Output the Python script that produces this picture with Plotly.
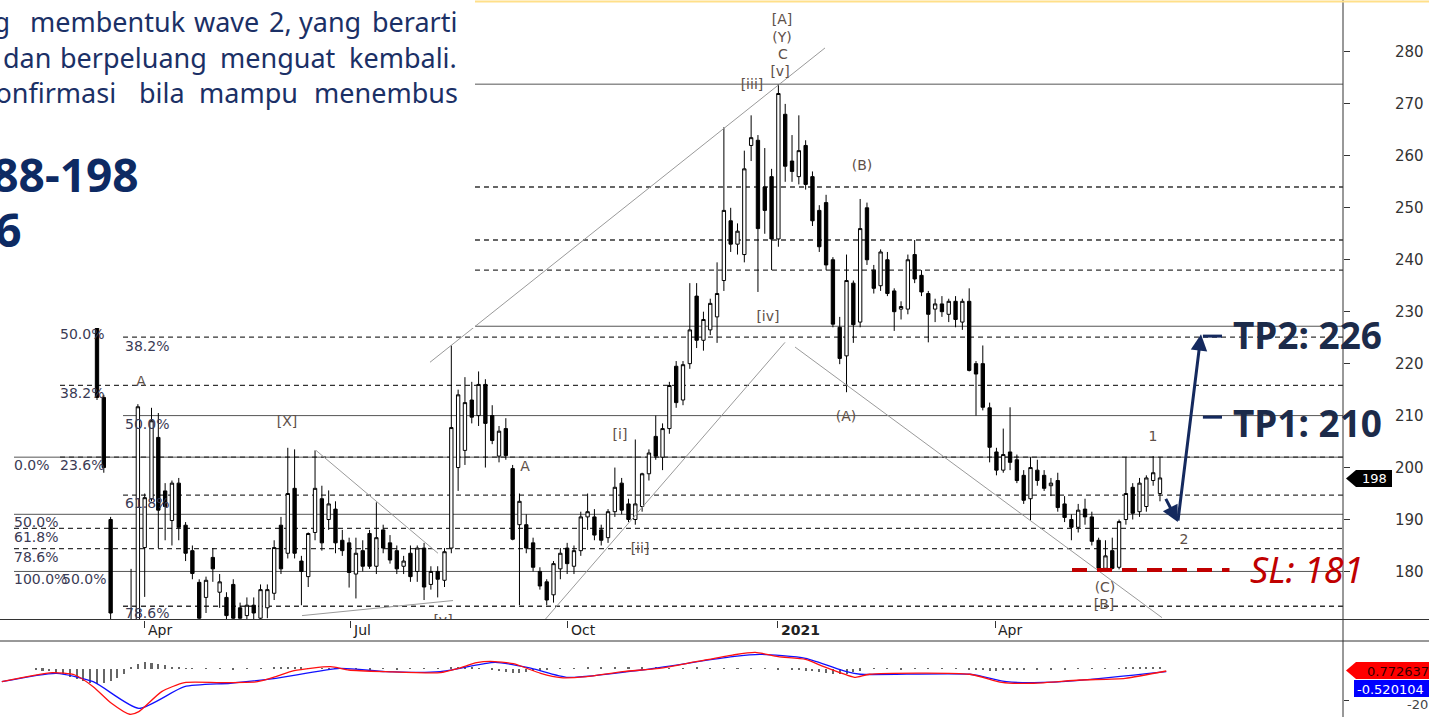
import plotly.graph_objects as go

W, H = 1429, 717

# ---------------- price data (two-session candles) ----------------
opens = [228, 213.5, 190, 168, 163, 165, 168, 184.6, 194, 205.8,
         195.5, 189.8, 197, 188.9, 184, 177.9, 175, 182.7, 176, 175,
         177.5, 173, 171.5, 173.5, 171, 173, 175.8, 188.9, 183.5, 196,
         182, 179, 187.5, 194, 190, 192, 186, 185.5, 179.5, 184,
         187.3, 181, 188, 185.5, 184, 181, 183.5, 180, 184.5, 177.5,
         180, 178.3, 184.5, 200, 203.3, 213, 210, 216, 210, 202.2,
         207.5, 199.8, 189, 189, 185.5, 180, 178, 175.5, 180.5, 184.5,
         181, 184, 190.5, 190.5, 188, 186.5, 191.5, 197, 193, 190,
         192.5, 198.8, 206, 202, 207.5, 219.5, 213, 220, 233, 224.5,
         226.5, 229, 236, 247.5, 243, 241, 262, 263, 254, 256,
         244, 268, 259, 256, 262, 256, 249.5, 251, 240, 227,
         221.5, 235.5, 228, 250, 238, 235, 240, 234, 230.5, 230.5,
         241, 237, 233.5, 230.5, 231.5, 229.5, 232, 228, 232, 220,
         220, 211.5, 203, 199.5, 203, 201.5, 198.5, 194, 199.5, 198.5,
         196.5, 197.5, 193, 190, 188.5, 192, 190.5, 186, 180.6, 184,
         180.8, 190, 196.2, 191.5, 192.5, 197.5, 195]
highs = [230, 214, 190.5, 169, 168, 180.5, 212.2, 195, 211.5, 210.5,
         197, 197.5, 198, 189.5, 185, 178.5, 179, 184.5, 179.5, 176,
         178.5, 174, 175, 175, 177.5, 177.5, 186, 190.5, 203.8, 203.5,
         183, 187.5, 203.3, 196.5, 195.6, 193.5, 188, 186.5, 186.5, 186,
         188, 193.3, 189, 187, 185, 183, 185, 185, 185.5, 181,
         181, 184.5, 223.5, 215, 217.4, 216.5, 218.5, 217, 212, 208,
         209.5, 200.5, 195, 191, 186.5, 180.8, 178.5, 182, 184.5, 185.5,
         185, 191.5, 195, 192, 189, 192, 200, 198, 194, 205.4,
         199, 203.5, 210, 208.5, 216.5, 220.5, 220.5, 235.5, 235.5, 230,
         232.5, 239.5, 265.5, 250, 247, 261, 267.8, 264, 261.5, 257.5,
         273.8, 270, 264, 267.8, 263, 257, 250.5, 252.5, 240.5, 229,
         241, 236, 251.7, 251, 239, 242, 241.5, 234.5, 232, 241,
         243.8, 238, 234, 232.5, 233, 232.5, 233, 232.5, 234.5, 220.5,
         223.5, 212.5, 203.8, 207.5, 211.6, 202.5, 199.5, 202, 201.5, 199.5,
         198, 199, 194.5, 191, 193, 194, 191.5, 186.5, 186, 186.5,
         190, 202, 197, 198, 198.5, 202.2, 202]
lows = [213, 199, 169, 160, 158, 162, 166, 175.1, 193.5, 184.5,
        186, 185, 186, 182, 178.5, 169, 172, 178, 173, 170,
        169, 169, 170, 169.5, 169, 171, 174.5, 179.5, 182.5, 182.5,
        173.5, 177, 186, 184, 188, 183.5, 183, 176.9, 174.8, 180,
        180.5, 179.5, 183.5, 181.5, 179.5, 179.5, 178, 178, 174.5, 176.5,
        175, 177, 183.5, 195.5, 200.5, 208.5, 208, 200, 204.5, 201,
        201.5, 186, 173.5, 183.5, 180, 176.5, 173.5, 174, 178.5, 179.5,
        179.5, 183, 188, 186, 185, 185.5, 190.5, 191, 189.5, 189,
        191.5, 197.5, 201.5, 199.5, 206.5, 211.5, 212, 219, 223, 222.5,
        225.5, 224, 234, 241.5, 241, 239.5, 259, 233.8, 245, 238,
        242.5, 255, 255, 254.5, 253.5, 246.5, 241.5, 238, 227, 219.9,
        214.5, 224, 227, 239, 233.5, 234, 233, 226.3, 228.5, 229.5,
        235.5, 233, 224.1, 228, 229, 228, 227, 226.5, 218.5, 210,
        211, 201, 198.5, 199, 199.5, 197, 193, 189.8, 196.5, 195.5,
        194.5, 191.5, 189.5, 186, 187.5, 189, 185, 180.5, 180.4, 180.4,
        180.4, 189, 190, 190.5, 191.5, 196.5, 193.5]
closes = [213.5, 200, 172, 162, 166, 168, 211.7, 194.2, 209, 191.8,
          192.5, 197, 188.5, 183.5, 179.6, 171, 178.3, 180.5, 178, 171.5,
          171, 171, 173.5, 172, 176.5, 176.5, 184.6, 180.5, 195, 183.5,
          180, 187.3, 196, 185.5, 193, 185.5, 184, 179.8, 183.5, 181,
          181, 186.5, 184.5, 182.2, 180.5, 182, 179, 184.5, 177, 180,
          178.5, 183.8, 207.7, 214, 212.5, 209.7, 216, 208.5, 205.2, 207,
          202.3, 186.2, 193.5, 184.5, 180.8, 177.2, 174.5, 181.5, 183.5, 181.5,
          184, 190.5, 191.5, 187, 186, 191.5, 196.2, 191.8, 190, 193,
          198.8, 202.8, 202.2, 207.5, 215.8, 212.5, 219.8, 226.5, 224.5, 228.5,
          231.6, 233.5, 249.5, 243, 245.5, 257.5, 263.5, 246, 249.5, 244,
          272, 258, 257, 261, 254.5, 247.5, 242.5, 239, 227.6, 221,
          236, 227.5, 246, 240, 234.5, 241.5, 233.5, 230, 231, 240,
          236.3, 233.8, 229.5, 231.5, 230, 232, 228.5, 232, 218.7, 218,
          211.6, 203.9, 199.5, 202.5, 201, 197.5, 193.7, 200, 197.5, 196,
          197, 192.3, 190.4, 188.5, 191.8, 190.5, 185.8, 180.6, 183, 180.6,
          189.6, 195, 191.2, 197, 198, 199, 198]
candle_pos = list(range(len(closes)))

# x-axis (session index) ticks and labels
tick_pos = [7.04, 37.13, 69.12, 99.94, 131.79]
tick_text = ["Apr", "Jul", "Oct", "<b>2021</b>", "Apr"]
price_ticks = [180, 190, 200, 210, 220, 230, 240, 250, 260, 270, 280]
last_price = "198"

# Fibonacci / horizontal levels
fib_levels = [273.8, 227.2, 210.0, 202.0, 191.0, 180.0,
              254.0, 243.8, 238.0, 225.1, 215.8, 202.0, 194.7, 188.3, 184.4, 173.3]
fib_start = [55.47, 55.47, 3.82, -12.18, -12.18, -12.18,
             55.47, 55.47, 55.47, 3.82, -5.43, -5.43, 3.82, -12.18, -12.18, 3.82]
fib_solid = [True] * 6 + [False] * 10

fib_label_text = ["50.0%", "38.2%", "38.2%", "50.0%", "0.0%", "23.6%", "61.8%",
                  "50.0%", "61.8%", "78.6%", "100.0%", "50.0%", "78.6%"]
fib_label_x = [-5.43, 4.11, -5.43, 4.11, -12.18, -5.43, 4.11,
               -12.18, -12.18, -12.18, -12.18, -5.14, 4.11]
fib_label_y = [225.47, 223.16, 214.1, 208.13, 200.23, 200.23, 192.91,
               189.25, 186.36, 182.5, 178.27, 178.27, 171.7]

# Elliott wave labels
wave_text = ["A", "[X]", "A", "[i]", "[ii]", "[iii]", "[v]", "C", "(Y)", "[A]",
             "[iv]", "(B)", "(A)", "(C)", "[B]", "1", "2", "[v]"]
wave_x = [6.46, 27.88, 62.81, 76.75, 79.69, 96.12, 100.24, 100.67, 100.53, 100.53,
          98.47, 112.27, 109.92, 147.93, 147.78, 154.98, 159.52, 50.78]
wave_y = [216.42, 208.71, 200.04, 206.2, 184.24, 273.45, 275.95, 279.23, 282.5, 285.97,
          228.94, 258.03, 209.67, 176.72, 173.45, 205.82, 185.97, 170.4]

# trend / channel lines: (x0, y0, x1, y1)
trend_lines = [
    (48.87, 220.27, 106.84, 280.77),
    (65.6, 170.5, 100.97, 224.1),
    (102.44, 223.2, 156.3, 171.1),
    (32.14, 203.3, 50.04, 183.5),
    (30.09, 171.5, 52.25, 174.4),
]

# oscillator panel
red_x = [-13.97, -6.6, -3.24, -0.56, 2.12, 4.8, 6.14, 9.49, 12.84, 18.2, 23.56, 26.24, 28.92,
         34.28, 36.96, 42.33, 50.37, 53.05, 55.73, 57.74, 61.09, 65.11, 68.06, 71.81, 77.17,
         82.53, 87.9, 93.26, 96.6, 99.96, 103.98, 106.66, 110.01, 111.35, 113.36, 128.1,
         132.8, 137.49, 144.19, 150.89, 156.92]
red_v = [-8.17, -2.37, -3.87, -11.4, -22.15, -29.2, -27.5, -14.6, -8.8, -8.8, -8.2, -4.9, -1.1,
         1.5, -0.65, -1.7, -2.37, 0.43, 4.1, 4.95, 3.4, -2.8, -5.6, -4.95, -1.7,
         0.43, 4.7, 9.0, 10.75, 7.96, 6.24, 1.5, -3.87, -5.4, -3.4, -3.4,
         -8.6, -9.2, -7.1, -6.0, -1.3]
blue_x = [-13.97, -5.93, -0.56, 6.14, 12.84, 19.54, 26.24, 35.62, 42.33, 50.37, 58.41, 63.77,
          69.13, 79.86, 93.26, 97.28, 103.98, 110.01, 112.02, 128.1, 133.47, 137.49, 144.19, 156.92]
blue_v = [-8.17, -2.8, -8.2, -25.4, -11.4, -9.2, -6.0, 0.43, -1.7, -1.7, 4.3, 0.43,
          -5.4, -0.65, 7.96, 9.46, 6.9, -1.7, -3.4, -3.4, -8.2, -8.8, -7.3, -1.7]
hist_x = [-9, -8, -7, -6, -5, -4, -3, -2, -1, 0, 1, 2, 3, 4, 5, 6, 7, 8, 9, 10, 11, 12, 13, 14,
          16, 18, 20, 22, 24, 26, 27, 28, 29, 30, 31, 33, 34, 35, 36, 38, 40, 42, 44, 46, 48, 50,
          52, 53, 54, 55, 56, 58, 59, 60, 61, 62, 63, 64, 65, 66, 68, 70, 72, 74, 76, 78, 80,
          82, 84, 86, 88, 90, 92, 94, 96, 98, 100, 102, 103, 104, 105, 106, 107, 108, 109, 110,
          111, 112, 114, 116, 118, 120, 122, 124, 126, 128, 129, 130, 131, 132, 133, 134, 135,
          136, 138, 140, 142, 144, 146, 148, 150, 151, 152, 153, 154, 155, 156]
hist_v = [-0.5, -1, -1.6, -2.5, -3.5, -5, -6.5, -8, -9, -9.5, -9, -7.5, -5.5, -3, 1.5, 3, 4.3, 4,
          3.2, 2.4, 1.6, 1, 0.6, 0.4,
          0.3, 0.3, -0.3, 0.3, 0.4, 0.8, 1.2, 1.5, 1.3, 1.0, 0.6, 0.5, -0.4, 0.3, 0.3, 0.3, -0.3,
          0.3, -0.3, 0.3, 0.3, 0.4,
          0.8, 1.5, 1.2, 0.8, 0.5, -0.8, -1.5, -2.2, -2.8, -2.5, -2, -1.5, -1, -0.5, 0.4, 0.6,
          0.8, 0.9, 1, 0.9, 0.8,
          0.7, 0.5, 0.6, 0.7, 0.6, 0.5, 0.5, 0.4, 0.4, -0.3, -0.4, -0.6, -1, -1.5, -2.2, -2.8,
          -3.3, -3.5, -3,
          -2, -1, 0.3, 0.3, -0.3, 0.3, 0.3, 0.3, 0.3, -0.5, -0.7, -0.9, -1, -1, -0.9, -0.8, -0.7,
          -0.6, -0.5, -0.4, -0.3, 0.3, 0.3, 0.4, 0.5, 0.7, 0.9, 1.1, 1.2, 1.2, 1.0]
osc_labels = ["0.772637", "-0.520104"]

# trade plan
trade_path = [(156.74, 194.26), (158.62, 189.5), (162.02, 225.67)]
tp_levels = [225.3, 209.7]
tp_text = ["TP2: 226", "TP1: 210"]
tp_text_y = [225.67, 208.71]
sl_level = 180.3
sl_text = "SL: 181"

# ---------------- geometry helpers ----------------
XR = [-14.235, 182.86]
PLOT_R = 1343


def px(x):
    return x / W


def py(y):
    return 1 - y / H


NAVY = "#14295e"
fig = go.Figure()

# trend lines
for (x0, y0, x1, y1) in trend_lines:
    fig.add_trace(go.Scatter(x=[x0, x1], y=[y0, y1], mode="lines",
                             line=dict(color="#9a9a9a", width=1), hoverinfo="skip",
                             xaxis="x", yaxis="y"))

fig.add_trace(go.Candlestick(
    x=candle_pos, open=opens, high=highs, low=lows, close=closes,
    increasing=dict(line=dict(color="black", width=1), fillcolor="white"),
    decreasing=dict(line=dict(color="black", width=1), fillcolor="black"),
    whiskerwidth=0, hoverinfo="skip", xaxis="x", yaxis="y"))

fig.add_trace(go.Scatter(x=fib_label_x, y=fib_label_y, text=fib_label_text, mode="text",
                         textposition="middle right",
                         textfont=dict(family="DejaVu Sans", size=14, color="#3b3b55"),
                         hoverinfo="skip", xaxis="x", yaxis="y", cliponaxis=True))
fig.add_trace(go.Scatter(x=wave_x, y=wave_y, text=wave_text, mode="text",
                         textposition="middle center",
                         textfont=dict(family="DejaVu Sans", size=14, color="#5e5048"),
                         hoverinfo="skip", xaxis="x", yaxis="y", cliponaxis=True))

# oscillator
fig.add_trace(go.Bar(x=hist_x, y=hist_v, width=0.3, marker=dict(color="#666", line=dict(width=0)),
                     xaxis="x2", yaxis="y2", hoverinfo="skip"))
fig.add_trace(go.Scatter(x=blue_x, y=blue_v, mode="lines", line=dict(color="#1010ff", width=1.3, shape="spline", smoothing=0.6),
                         xaxis="x2", yaxis="y2", hoverinfo="skip"))
fig.add_trace(go.Scatter(x=red_x, y=red_v, mode="lines", line=dict(color="#ff1010", width=1.3, shape="spline", smoothing=0.6),
                         xaxis="x2", yaxis="y2", hoverinfo="skip"))

shapes = []
for lvl, x0, solid in zip(fib_levels, fib_start, fib_solid):
    shapes.append(dict(type="line", xref="x", yref="y", x0=x0, x1=XR[1], y0=lvl, y1=lvl,
                       line=dict(color="#555" if solid else "#333", width=1 if solid else 1.3,
                                 dash="solid" if solid else "5px,4px"), layer="below"))

# white text panel covering the chart top-left
shapes.append(dict(type="rect", xref="paper", yref="paper", x0=0, x1=px(475), y0=py(328), y1=1,
                   fillcolor="white", line=dict(width=0), layer="above"))
# frame lines
shapes.append(dict(type="line", xref="paper", yref="paper", x0=px(PLOT_R), x1=px(PLOT_R), y0=0, y1=1,
                   line=dict(color="#333", width=1)))
shapes.append(dict(type="line", xref="paper", yref="paper", x0=0, x1=1, y0=py(619.5), y1=py(619.5),
                   line=dict(color="#333", width=1)))
shapes.append(dict(type="line", xref="paper", yref="paper", x0=0, x1=1, y0=py(641), y1=py(641),
                   line=dict(color="#333", width=1)))
shapes.append(dict(type="line", xref="paper", yref="paper", x0=px(475), x1=1, y0=py(1.5), y1=py(1.5),
                   line=dict(color="#ffe08a", width=2)))

# TP ticks and SL line
for lvl in tp_levels:
    shapes.append(dict(type="line", xref="x", yref="y", x0=162.3, x1=165.1, y0=lvl, y1=lvl,
                       line=dict(color=NAVY, width=3)))
shapes.append(dict(type="line", xref="x", yref="y", x0=143.09, x1=166.2, y0=sl_level, y1=sl_level,
                   line=dict(color="#c00000", width=4, dash="15px,10px")))

# price tag and oscillator tags
def tag(x_tip, x_body, x_right, y_top, y_bot, color):
    ym = (y_top + y_bot) / 2
    return dict(type="path", xref="paper", yref="paper",
                path=f"M {px(x_tip)} {py(ym)} L {px(x_body)} {py(y_top)} L {px(x_right)} {py(y_top)} "
                     f"L {px(x_right)} {py(y_bot)} L {px(x_body)} {py(y_bot)} Z",
                fillcolor=color, line=dict(width=0), layer="above")

shapes.append(tag(1346, 1356, 1392, 470, 487, "black"))
shapes.append(tag(1346, 1356, 1430, 662, 679, "#ff0000"))
shapes.append(dict(type="rect", xref="paper", yref="paper", x0=px(1354), x1=1, y0=py(697), y1=py(680),
                   fillcolor="#0000ff", line=dict(width=0), layer="above"))

ann = []
# trade arrows
ann.append(dict(x=trade_path[1][0], y=trade_path[1][1], ax=trade_path[0][0], ay=trade_path[0][1],
                xref="x", yref="y", axref="x", ayref="y", text="", showarrow=True,
                arrowhead=2, arrowsize=1.1, arrowwidth=3, arrowcolor=NAVY))
ann.append(dict(x=trade_path[2][0], y=trade_path[2][1], ax=trade_path[1][0], ay=trade_path[1][1],
                xref="x", yref="y", axref="x", ayref="y", text="", showarrow=True,
                arrowhead=2, arrowsize=1.1, arrowwidth=3, arrowcolor=NAVY))
for t, yv in zip(tp_text, tp_text_y):
    ann.append(dict(x=166.45, y=yv, xref="x", yref="y", text=f"<b>{t}</b>", showarrow=False,
                    xanchor="left", yanchor="middle",
                    font=dict(family="Noto Sans", size=37, color="#1c2b4a")))
ann.append(dict(x=168.9, y=sl_level, xref="x", yref="y", text=f"<i>{sl_text}</i>", showarrow=False,
                xanchor="left", yanchor="middle",
                font=dict(family="Noto Sans", size=36, color="#c00000")))

# date labels
for tp_, tt in zip(tick_pos, tick_text):
    ann.append(dict(x=tp_, y=py(630), xref="x", yref="paper", text=tt, showarrow=False,
                    xanchor="left", yanchor="middle", xshift=1,
                    font=dict(family="DejaVu Sans", size=14, color="#222")))

# tags text
ann.append(dict(x=px(1360), y=py(478.5), xref="paper", yref="paper", text=last_price, showarrow=False,
                xanchor="left", yanchor="middle", font=dict(family="DejaVu Sans", size=13, color="white")))
ann.append(dict(x=px(1365), y=py(671), xref="paper", yref="paper", text=osc_labels[0], showarrow=False,
                xanchor="left", yanchor="middle", font=dict(family="DejaVu Sans", size=13, color="#300")))
ann.append(dict(x=px(1355), y=py(689), xref="paper", yref="paper", text=osc_labels[1], showarrow=False,
                xanchor="left", yanchor="middle", font=dict(family="DejaVu Sans", size=13, color="white")))
ann.append(dict(x=px(1405), y=py(704), xref="paper", yref="paper", text="-20", showarrow=False,
                xanchor="left", yanchor="middle", font=dict(family="DejaVu Sans", size=13, color="#444")))

# slide text (top-left)
TXT = "#1b3066"
body_lines = [
    (22, [("sedang", 12, "right"), ("membentuk", 28, "left"), ("wave", 192, "left"), ("2,", 267, "left"),
          ("yang", 297, "left"), ("berarti", 370, "left")]),
    (57, [("dan", 1, "left"), ("berpeluang", 58, "left"), ("menguat", 218, "left"),
          ("kembali.", 347, "left")]),
    (93, [("konfirmasi", 118, "right"), ("bila", 137, "left"), ("mampu", 197, "left"),
          ("menembus", 312, "left")]),
]
for yy, words in body_lines:
    for w, xx, anc in words:
        ann.append(dict(x=px(xx), y=py(yy), xref="paper", yref="paper", text=w, showarrow=False,
                        xanchor=anc, yanchor="middle",
                        font=dict(family="Noto Sans", size=27, color=TXT)))
ann.append(dict(x=px(141), y=py(174), xref="paper", yref="paper", text="<b>188-198</b>", showarrow=False,
                xanchor="right", yanchor="middle", font=dict(family="Noto Sans", size=46, color="#0d2a63")))
ann.append(dict(x=px(24), y=py(229), xref="paper", yref="paper", text="<b>210-226</b>", showarrow=False,
                xanchor="right", yanchor="middle", font=dict(family="Noto Sans", size=46, color="#0d2a63")))

fig.update_layout(
    width=W, height=H, margin=dict(l=0, r=0, t=0, b=0),
    paper_bgcolor="white", plot_bgcolor="white", showlegend=False,
    xaxis=dict(domain=[0, PLOT_R / W], range=XR, showgrid=False, zeroline=False, showline=False,
               ticks="outside", ticklen=7, tickcolor="#333", tickvals=tick_pos, showticklabels=False,
               rangeslider=dict(visible=False), anchor="y", fixedrange=True),
    yaxis=dict(domain=[py(619.5), 1], range=[170.75, 290.0], side="right", anchor="x",
               showgrid=False, zeroline=False, showline=False, ticks="outside", ticklen=6,
               tickcolor="#333", tickvals=price_ticks, ticklabelstandoff=42,
               tickfont=dict(family="DejaVu Sans", size=15, color="#333"), fixedrange=True),
    xaxis2=dict(domain=[0, PLOT_R / W], range=XR, anchor="y2", showgrid=False, zeroline=False,
                showline=False, showticklabels=False, ticks=""),
    yaxis2=dict(domain=[0, py(641)], range=[-30.97, 18.06], side="right", anchor="x2",
                showgrid=False, zeroline=False, showline=False, ticks="outside", ticklen=5,
                tickcolor="#333", tickvals=[-20], showticklabels=False),
    shapes=shapes, annotations=ann, bargap=0,
)

fig.write_html("out.html", config={"displayModeBar": False},
               post_script="document.body.style.margin='0px';document.body.style.overflow='hidden';")
